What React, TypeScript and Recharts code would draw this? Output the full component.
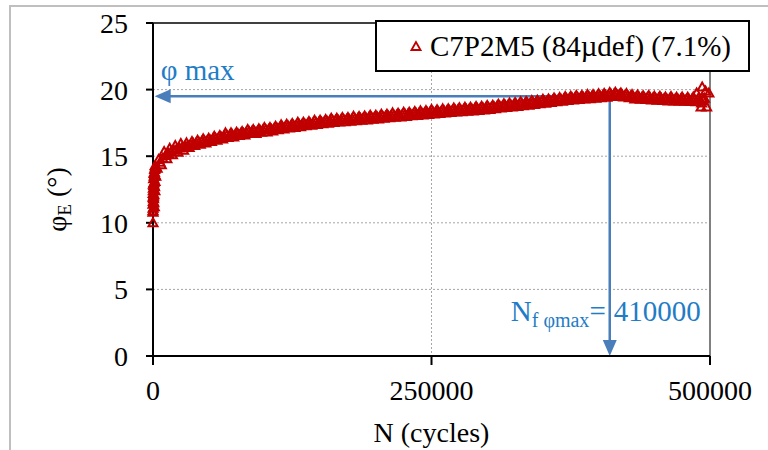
import React from 'react';
import { ScatterChart, Scatter, XAxis, YAxis, CartesianGrid, ReferenceLine } from 'recharts';

const seriesName = 'C7P2M5 (84µdef) (7.1%)';
const xTicks = [0, 250000, 500000];
const yTicks = [0, 5, 10, 15, 20, 25];
const gridRows = [5, 10, 15, 20];
const gridCols = [250000];
const peakCycles = 410000;
const peakPhi = 19.5;
const arrowTipCycles = 1500;

// [N (cycles), phiE (deg)] - first cycles (vertical stack at N ~ 0)
const measuredStart: [number, number][] = [
  [0, 10.0], [0, 10.9], [0, 11.4], [200, 11.9], [300, 12.4], [400, 12.9], [600, 13.3], [800, 12.1], [1000, 13.7], [1200, 11.2],
  [1500, 14.0], [1800, 13.1], [2000, 14.3], [0, 10.8], [100, 11.1], [300, 11.6], [500, 11.8], [150, 12.2], [350, 12.6], [700, 12.8],
  [900, 13.0], [1100, 13.5], [1300, 13.8], [1600, 13.6], [1900, 14.1], [2200, 14.2], [700, 11.5], [400, 12.0], [1400, 12.7], [1700, 12.4],
];

// upper / lower edge of the band
const measuredEdges: [number, number][] = [
  [2500, 13.5], [5000, 14.75], [7500, 14.35], [10000, 15.35], [12500, 14.8], [15000, 15.6], [17500, 15.1], [20000, 15.8], [22500, 15.3], [25000, 15.95],
  [27500, 15.45], [30000, 16.0], [32500, 15.65], [35000, 16.1], [37500, 15.8], [40000, 16.2], [42500, 15.9], [45000, 16.3], [47500, 16.0], [50000, 16.35],
  [52500, 16.1], [55000, 16.5], [57500, 16.2], [60000, 16.55], [62500, 16.3], [65000, 16.75], [67500, 16.4], [70000, 16.75], [72500, 16.45], [75000, 16.8],
  [77500, 16.55], [80000, 16.85], [82500, 16.6], [85000, 17.0], [87500, 16.7], [90000, 17.0], [92500, 16.7], [95000, 17.05], [97500, 16.8], [100000, 17.15],
  [102500, 16.82], [105000, 17.15], [107500, 16.9], [110000, 17.25], [112500, 16.98], [115000, 17.35], [117500, 17.05], [120000, 17.4], [122500, 17.12], [125000, 17.45],
  [127500, 17.15], [130000, 17.55], [132500, 17.22], [135000, 17.55], [137500, 17.28], [140000, 17.6], [142500, 17.32], [145000, 17.7], [147500, 17.38], [150000, 17.7],
  [152500, 17.43], [155000, 17.75], [157500, 17.48], [160000, 17.85], [162500, 17.53], [165000, 17.85], [167500, 17.56], [170000, 17.9], [172500, 17.59], [175000, 17.9],
  [177500, 17.62], [180000, 18.0], [182500, 17.66], [185000, 17.98], [187500, 17.7], [190000, 18.02], [192500, 17.72], [195000, 18.08], [197500, 17.77], [200000, 18.08],
  [202500, 17.8], [205000, 18.15], [207500, 17.84], [210000, 18.15], [212500, 17.88], [215000, 18.25], [217500, 17.92], [220000, 18.23], [222500, 17.95], [225000, 18.3],
  [227500, 17.98], [230000, 18.3], [232500, 18.03], [235000, 18.35], [237500, 18.06], [240000, 18.4], [242500, 18.1], [245000, 18.42], [247500, 18.14], [250000, 18.5],
  [252500, 18.17], [255000, 18.48], [257500, 18.2], [260000, 18.55], [262500, 18.24], [265000, 18.55], [267500, 18.28], [270000, 18.62], [272500, 18.32], [275000, 18.63],
  [277500, 18.34], [280000, 18.68], [282500, 18.37], [285000, 18.68], [287500, 18.4], [290000, 18.73], [292500, 18.43], [295000, 18.75], [297500, 18.47], [300000, 18.8],
  [302500, 18.51], [305000, 18.83], [307500, 18.56], [310000, 18.9], [312500, 18.61], [315000, 18.93], [317500, 18.66], [320000, 19.0], [322500, 18.7], [325000, 19.02],
  [327500, 18.74], [330000, 19.08], [332500, 18.78], [335000, 19.1], [337500, 18.83], [340000, 19.17], [342500, 18.88], [345000, 19.2], [347500, 18.93], [350000, 19.27],
  [352500, 18.98], [355000, 19.3], [357500, 19.03], [360000, 19.37], [362500, 19.08], [365000, 19.4], [367500, 19.13], [370000, 19.47], [372500, 19.18], [375000, 19.5],
  [377500, 19.22], [380000, 19.55], [382500, 19.25], [385000, 19.56], [387500, 19.29], [390000, 19.62], [392500, 19.32], [395000, 19.62], [397500, 19.35], [400000, 19.68],
  [402500, 19.38], [405000, 19.7], [407500, 19.43], [410000, 19.78], [412500, 19.48], [415000, 19.8], [417500, 19.5], [420000, 19.75], [422500, 19.45], [425000, 19.7],
  [427500, 19.38], [430000, 19.62], [432500, 19.3], [435000, 19.6], [437500, 19.28], [440000, 19.53], [442500, 19.25], [445000, 19.55], [447500, 19.22], [450000, 19.5],
  [452500, 19.2], [455000, 19.5], [457500, 19.18], [460000, 19.45], [462500, 19.15], [465000, 19.48], [467500, 19.15], [470000, 19.43], [472500, 19.13], [475000, 19.45],
  [477500, 19.12], [480000, 19.42], [482500, 19.1], [485000, 19.45], [487500, 19.08], [490000, 19.4], [492500, 19.0], [495000, 19.35],
];

// middle of the band
const measuredMid: [number, number][] = [
  [3750, 14.1], [6250, 14.55], [8750, 14.85], [11250, 15.05], [13750, 15.2], [16250, 15.35], [18750, 15.45], [21250, 15.55], [23750, 15.62], [26250, 15.7],
  [28750, 15.75], [31250, 15.82], [33750, 15.88], [36250, 15.95], [38750, 16.0], [41250, 16.05], [43750, 16.1], [46250, 16.15], [48750, 16.18], [51250, 16.22],
  [53750, 16.3], [56250, 16.35], [58750, 16.38], [61250, 16.42], [63750, 16.52], [66250, 16.58], [68750, 16.58], [71250, 16.6], [73750, 16.62], [76250, 16.68],
  [78750, 16.7], [81250, 16.72], [83750, 16.8], [86250, 16.85], [88750, 16.85], [91250, 16.85], [93750, 16.88], [96250, 16.92], [98750, 16.98], [101250, 17.0],
  [103750, 17.0], [106250, 17.02], [108750, 17.08], [111250, 17.12], [113750, 17.15], [116250, 17.2], [118750, 17.22], [121250, 17.26], [123750, 17.28], [126250, 17.3],
  [128750, 17.35], [131250, 17.38], [133750, 17.38], [136250, 17.42], [138750, 17.44], [141250, 17.46], [143750, 17.5], [146250, 17.54], [148750, 17.54], [151250, 17.56],
  [153750, 17.59], [156250, 17.62], [158750, 17.66], [161250, 17.69], [163750, 17.69], [166250, 17.7], [168750, 17.73], [171250, 17.75], [173750, 17.75], [176250, 17.76],
  [178750, 17.81], [181250, 17.83], [183750, 17.82], [186250, 17.84], [188750, 17.86], [191250, 17.87], [193750, 17.9], [196250, 17.92], [198750, 17.93], [201250, 17.94],
  [203750, 17.98], [206250, 18.0], [208750, 18.0], [211250, 18.02], [213750, 18.06], [216250, 18.08], [218750, 18.08], [221250, 18.09], [223750, 18.12], [226250, 18.14],
  [228750, 18.14], [231250, 18.16], [233750, 18.19], [236250, 18.2], [238750, 18.23], [241250, 18.25], [243750, 18.26], [246250, 18.28], [248750, 18.32], [251250, 18.33],
  [253750, 18.32], [256250, 18.34], [258750, 18.38], [261250, 18.4], [263750, 18.4], [266250, 18.42], [268750, 18.45], [271250, 18.47], [273750, 18.48], [276250, 18.48],
  [278750, 18.51], [281250, 18.52], [283750, 18.52], [286250, 18.54], [288750, 18.57], [291250, 18.58], [293750, 18.59], [296250, 18.61], [298750, 18.64], [301250, 18.66],
  [303750, 18.67], [306250, 18.7], [308750, 18.73], [311250, 18.76], [313750, 18.77], [316250, 18.8], [318750, 18.83], [321250, 18.85], [323750, 18.86], [326250, 18.88],
  [328750, 18.91], [331250, 18.93], [333750, 18.94], [336250, 18.97], [338750, 19.0], [341250, 19.03], [343750, 19.04], [346250, 19.07], [348750, 19.1], [351250, 19.13],
  [353750, 19.14], [356250, 19.17], [358750, 19.2], [361250, 19.23], [363750, 19.24], [366250, 19.27], [368750, 19.3], [371250, 19.33], [373750, 19.34], [376250, 19.36],
  [378750, 19.39], [381250, 19.4], [383750, 19.41], [386250, 19.43], [388750, 19.46], [391250, 19.47], [393750, 19.47], [396250, 19.49], [398750, 19.52], [401250, 19.53],
  [403750, 19.54], [406250, 19.57], [408750, 19.6], [411250, 19.63], [413750, 19.64], [416250, 19.65], [418750, 19.63], [421250, 19.6], [423750, 19.58], [426250, 19.54],
  [428750, 19.5], [431250, 19.46], [433750, 19.45], [436250, 19.44], [438750, 19.4], [441250, 19.39], [443750, 19.4], [446250, 19.38], [448750, 19.36], [451250, 19.35],
  [453750, 19.35], [456250, 19.34], [458750, 19.31], [461250, 19.3], [463750, 19.31], [466250, 19.31], [468750, 19.29], [471250, 19.28], [473750, 19.29], [476250, 19.28],
  [478750, 19.27], [481250, 19.26], [483750, 19.27], [486250, 19.26], [488750, 19.24], [491250, 19.2], [493750, 19.18],
];

// scattered last readings near N = 500000
const measuredEnd: [number, number][] = [
  [488000, 19.75], [492000, 18.7], [493000, 20.2], [494000, 19.3], [496000, 19.9], [497000, 18.7], [499000, 19.75],
];

const chartData = [...measuredStart, ...measuredEdges, ...measuredMid, ...measuredEnd].map(([n, phi]) => ({ n, phi }));

const FONT = '"Liberation Serif", "Times New Roman", serif';
const RED = '#c00000';
const BLUE_LINE = '#4a7ebb';
const BLUE_TEXT = '#1f7cc6';

const Triangle = (props: any) => {
  const { cx, cy } = props;
  if (cx == null || cy == null) return null;
  return (
    <polygon
      points={`${cx},${cy - 4.5} ${cx - 4.5},${cy + 3.5} ${cx + 4.5},${cy + 3.5}`}
      fill="none"
      stroke={RED}
      strokeWidth={2}
    />
  );
};

const LeftArrow = (props: any) => {
  const { x1, y1, x2, y2 } = props;
  const head = 16;
  const half = 7;
  return (
    <g>
      <line x1={x1} y1={y1} x2={x2 + head - 1} y2={y2} stroke={BLUE_LINE} strokeWidth={2.5} />
      <polygon points={`${x2},${y2} ${x2 + head},${y2 - half} ${x2 + head},${y2 + half}`} fill={BLUE_LINE} />
      <text x={x2 + 6} y={y2 - 16} fill={BLUE_TEXT} fontSize={29} fontFamily={FONT}>φ max</text>
    </g>
  );
};

const DownArrow = (props: any) => {
  const { x1, y1, x2, y2 } = props;
  const head = 16;
  const half = 7;
  return (
    <g>
      <line x1={x1} y1={y1} x2={x2} y2={y2 - head + 1} stroke={BLUE_LINE} strokeWidth={2.5} />
      <polygon points={`${x2},${y2} ${x2 - half},${y2 - head} ${x2 + half},${y2 - head}`} fill={BLUE_LINE} />
      <text x={x2 - 4} y={y2 - 35} textAnchor="end" fill={BLUE_TEXT} fontSize={29} fontFamily={FONT}>
        N<tspan dy={6} fontSize={20}>f φmax</tspan><tspan dy={-6}>=</tspan>
      </text>
      <text x={x2 + 4} y={y2 - 35} fill={BLUE_TEXT} fontSize={29} fontFamily={FONT}>410000</text>
    </g>
  );
};

const YTitle = (props: any) => {
  const vb = props.viewBox || { x: 93, y: 23, width: 60, height: 333 };
  const x = 66;
  const y = vb.y + vb.height / 2 + 10;
  return (
    <text x={x} y={y} transform={`rotate(-90, ${x}, ${y})`} textAnchor="middle" fontSize={28} fontFamily={FONT} fill="#000">
      φ<tspan dy={5} fontSize={19}>E</tspan><tspan dy={-5}> (°)</tspan>
    </text>
  );
};

const XTitle = (props: any) => {
  const vb = props.viewBox || { x: 153, y: 356, width: 557, height: 60 };
  return (
    <text x={vb.x + vb.width / 2} y={442} textAnchor="middle" fontSize={28} fontFamily={FONT} fill="#000">
      N (cycles)
    </text>
  );
};

export default function App() {
  return (
    <div style={{ position: 'fixed', left: 0, top: 0, width: 768, height: 450, overflow: 'hidden', background: '#fff' }}>
      <div style={{ position: 'absolute', left: 9, top: 5, width: 900, height: 600, borderTop: '2px solid #bfbfbf', borderLeft: '2px solid #bfbfbf' }} />
      <ScatterChart width={768} height={450} margin={{ top: 23, right: 58, bottom: 34, left: 93 }} style={{ position: 'absolute', left: 0, top: 0 }}>
        <CartesianGrid
          horizontalValues={gridRows}
          verticalValues={gridCols}
          stroke="#a6a6a6"
          strokeDasharray="2 2"
          strokeWidth={1}
        />
        <XAxis
          type="number"
          dataKey="n"
          domain={[0, 500000]}
          ticks={xTicks}
          interval={0}
          height={60}
          tickSize={9}
          tickMargin={15}
          axisLine={{ stroke: '#000', strokeWidth: 2 }}
          tickLine={{ stroke: '#000', strokeWidth: 2 }}
          tick={{ fill: '#000', fontSize: 28, fontFamily: FONT }}
          label={<XTitle />}
        />
        <YAxis
          type="number"
          dataKey="phi"
          domain={[0, 25]}
          ticks={yTicks}
          interval={0}
          width={60}
          tickSize={7}
          tickMargin={18}
          axisLine={{ stroke: '#000', strokeWidth: 2 }}
          tickLine={{ stroke: '#000', strokeWidth: 2 }}
          tick={{ fill: '#000', fontSize: 28, fontFamily: FONT }}
          label={<YTitle />}
        />
        <ReferenceLine y={25} stroke="#000" strokeWidth={1.5} />
        <ReferenceLine x={500000} stroke="#808080" strokeWidth={2} />
        <Scatter name={seriesName} data={chartData} shape={<Triangle />} isAnimationActive={false} />
        <ReferenceLine
          segment={[{ x: peakCycles, y: peakPhi }, { x: arrowTipCycles, y: peakPhi }]}
          ifOverflow="visible"
          shape={<LeftArrow />}
        />
        <ReferenceLine
          segment={[{ x: peakCycles, y: peakPhi }, { x: peakCycles, y: 0 }]}
          ifOverflow="visible"
          shape={<DownArrow />}
        />
      </ScatterChart>
      <div
        style={{
          position: 'absolute',
          left: 375,
          top: 20,
          width: 371,
          height: 48,
          border: '2px solid #000',
          background: '#fff',
          display: 'flex',
          alignItems: 'center',
          fontFamily: FONT,
          fontSize: 29,
          color: '#000',
          boxSizing: 'content-box',
        }}
      >
        <svg width={12} height={12} style={{ marginLeft: 33, marginRight: 8 }}>
          <polygon points="6,2 1.5,10 10.5,10" fill="#fff" stroke={RED} strokeWidth={1.8} />
        </svg>
        <span style={{ lineHeight: '30px' }}>{seriesName}</span>
      </div>
    </div>
  );
}
